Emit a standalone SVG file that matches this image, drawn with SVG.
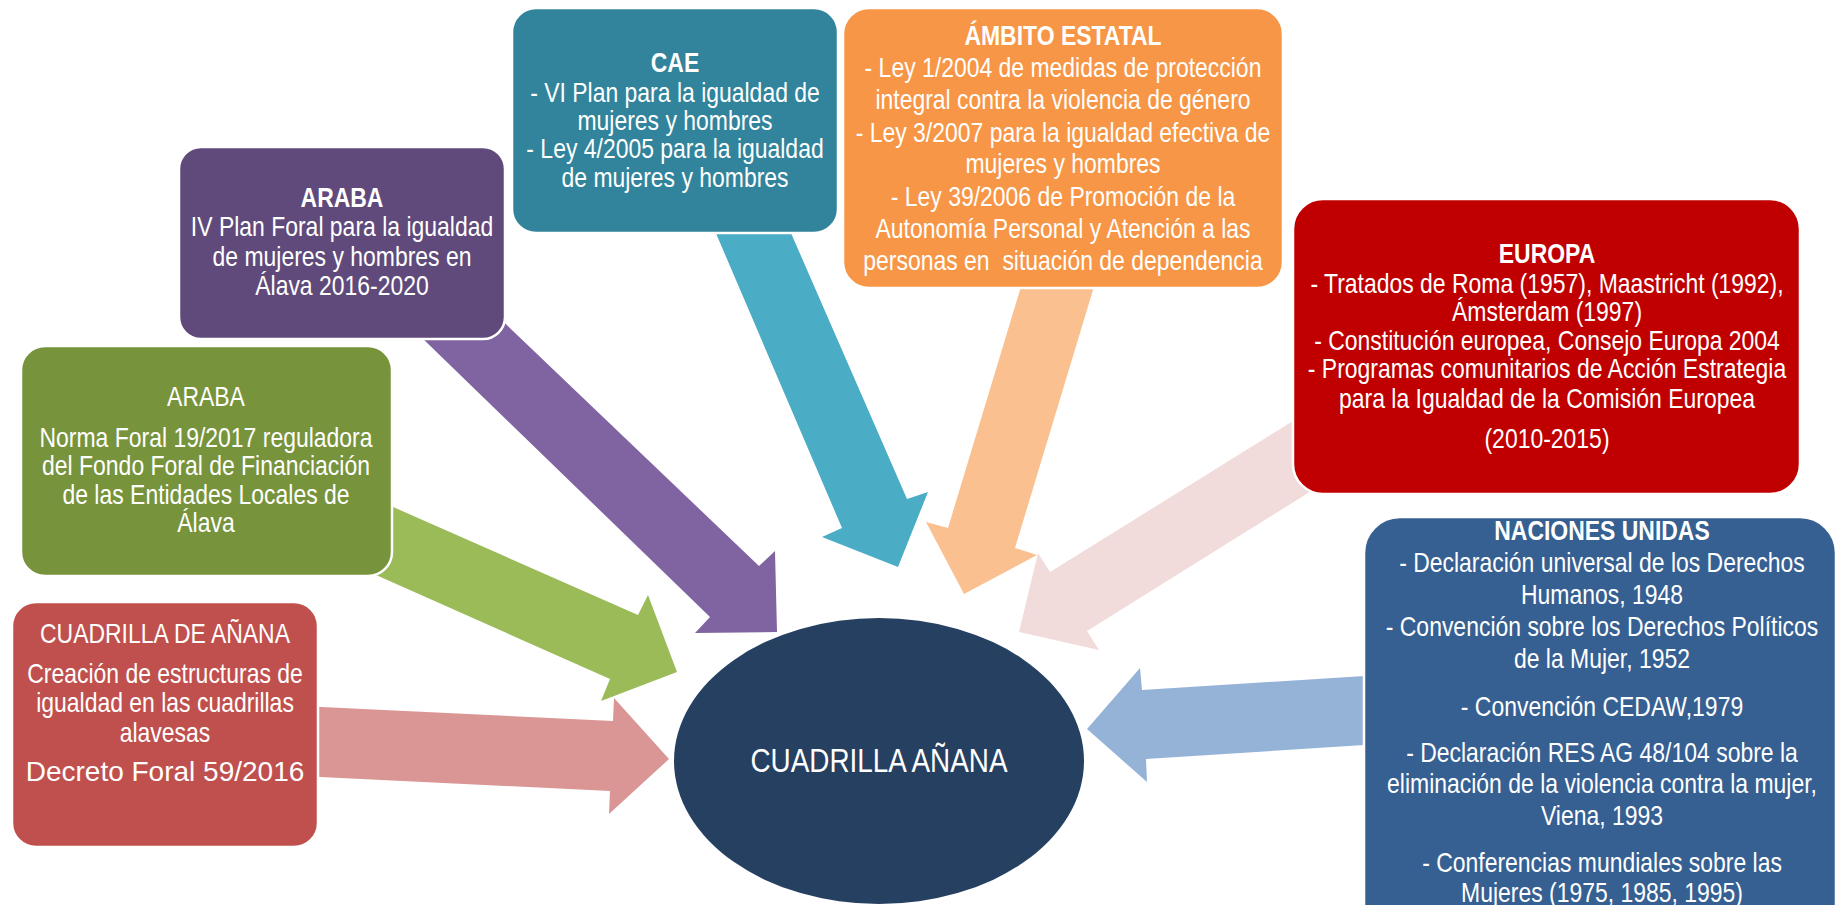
<svg xmlns="http://www.w3.org/2000/svg" width="1838" height="905" viewBox="0 0 1838 905">
<style>
.box{stroke:#ffffff;stroke-width:2.5}
.t{font-family:'Liberation Sans',Arial,sans-serif;font-size:28px;fill:#ffffff;text-anchor:middle}
.b{font-weight:bold}
</style>
<rect x="0" y="0" width="1838" height="905" fill="#ffffff"/>
<g id="connectors">
<polygon fill="#D99694" points="300,706 613,721 614,698 669,759 609,814 610,791 300,776"/>
<polygon fill="#9BBB59" points="350,488 638,615 648,595 677,672 601,701 610,679 340,559"/>
<polygon fill="#8064A2" points="467,287 759,566 775,551 777,632 695,633 710,617 386,303"/>
<polygon fill="#4BACC6" points="709,217 784,217 907,499 928,492 898,567 822,537 842,528"/>
<polygon fill="#FAC090" points="1023,280 1096,280 1015,548 1037,555 964,594 926,522 948,528"/>
<polygon fill="#F2DCDB" points="1322,403 1050,572 1038,553 1019,632 1099,650 1087,631 1337,475"/>
<polygon fill="#95B3D7" points="1380,675 1142,690 1140,668 1087,729 1147,782 1146,759 1380,744"/>
</g>
<g id="node-cuadrilla-de-anana">
<rect class="box" x="12" y="602" width="306" height="245" rx="24" fill="#C0504D"/>
<g transform="translate(165 0) scale(0.82 1)">
<text class="t" x="0" y="643">CUADRILLA DE AÑANA</text>
<text class="t" x="0" y="683">Creación de estructuras de</text>
<text class="t" x="0" y="712">igualdad en las cuadrillas</text>
<text class="t" x="0" y="742">alavesas</text>
</g>
<text class="t" x="165" y="781">Decreto Foral 59/2016</text>
</g>
<g id="node-araba-norma">
<rect class="box" x="21" y="346" width="371" height="230" rx="24" fill="#77933C"/>
<g transform="translate(206 0) scale(0.82 1)">
<text class="t" x="0" y="406">ARABA</text>
<text class="t" x="0" y="447">Norma Foral 19/2017 reguladora</text>
<text class="t" x="0" y="475">del Fondo Foral de Financiación</text>
<text class="t" x="0" y="504">de las Entidades Locales de</text>
<text class="t" x="0" y="532">Álava</text>
</g>
</g>
<g id="node-araba-plan">
<rect class="box" x="179" y="147" width="326" height="192" rx="22" fill="#604A7B"/>
<g transform="translate(342 0) scale(0.82 1)">
<text class="t b" x="0" y="207">ARABA</text>
<text class="t" x="0" y="236">IV Plan Foral para la igualdad</text>
<text class="t" x="0" y="266">de mujeres y hombres en</text>
<text class="t" x="0" y="295">Álava 2016-2020</text>
</g>
</g>
<g id="node-cae">
<rect class="box" x="512" y="8" width="326" height="225" rx="24" fill="#31849B"/>
<g transform="translate(675 0) scale(0.82 1)">
<text class="t b" x="0" y="72">CAE</text>
<text class="t" x="0" y="102">- VI Plan para la igualdad de</text>
<text class="t" x="0" y="130">mujeres y hombres</text>
<text class="t" x="0" y="158">- Ley 4/2005 para la igualdad</text>
<text class="t" x="0" y="187">de mujeres y hombres</text>
</g>
</g>
<g id="node-ambito-estatal">
<rect class="box" x="843" y="8" width="440" height="280" rx="26" fill="#F79646"/>
<g transform="translate(1063 0) scale(0.82 1)">
<text class="t b" x="0" y="45">ÁMBITO ESTATAL</text>
<text class="t" x="0" y="77">- Ley 1/2004 de medidas de protección</text>
<text class="t" x="0" y="109">integral contra la violencia de género</text>
<text class="t" x="0" y="142">- Ley 3/2007 para la igualdad efectiva de</text>
<text class="t" x="0" y="173">mujeres y hombres</text>
<text class="t" x="0" y="206">- Ley 39/2006 de Promoción de la</text>
<text class="t" x="0" y="238">Autonomía Personal y Atención a las</text>
<text class="t" x="0" y="270">personas en&#160; situación de dependencia</text>
</g>
</g>
<g id="node-europa">
<rect class="box" x="1293" y="199" width="507" height="295" rx="30" fill="#C00000"/>
<g transform="translate(1547 0) scale(0.82 1)">
<text class="t b" x="0" y="263">EUROPA</text>
<text class="t" x="0" y="293">- Tratados de Roma (1957), Maastricht (1992),</text>
<text class="t" x="0" y="321">Ámsterdam (1997)</text>
<text class="t" x="0" y="350">- Constitución europea, Consejo Europa 2004</text>
<text class="t" x="0" y="378">- Programas comunitarios de Acción Estrategia</text>
<text class="t" x="0" y="408">para la Igualdad de la Comisión Europea</text>
<text class="t" x="0" y="448">(2010-2015)</text>
</g>
</g>
<g id="node-naciones-unidas">
<rect class="box" x="1364" y="517" width="472" height="440" rx="36" fill="#366092"/>
<g transform="translate(1602 0) scale(0.82 1)">
<text class="t b" x="0" y="540">NACIONES UNIDAS</text>
<text class="t" x="0" y="572">- Declaración universal de los Derechos</text>
<text class="t" x="0" y="604">Humanos, 1948</text>
<text class="t" x="0" y="636">- Convención sobre los Derechos Políticos</text>
<text class="t" x="0" y="668">de la Mujer, 1952</text>
<text class="t" x="0" y="716">- Convención CEDAW,1979</text>
<text class="t" x="0" y="762">- Declaración RES AG 48/104 sobre la</text>
<text class="t" x="0" y="793">eliminación de la violencia contra la mujer,</text>
<text class="t" x="0" y="825">Viena, 1993</text>
<text class="t" x="0" y="872">- Conferencias mundiales sobre las</text>
<text class="t" x="0" y="902">Mujeres (1975, 1985, 1995)</text>
</g>
</g>
<g id="node-cuadrilla-anana">
<ellipse cx="879" cy="761" rx="205" ry="143" fill="#264062"/>
<g transform="translate(879 0) scale(0.82 1)">
<text class="t" x="0" y="772" style="font-size:34px">CUADRILLA AÑANA</text>
</g>
</g>
</svg>
